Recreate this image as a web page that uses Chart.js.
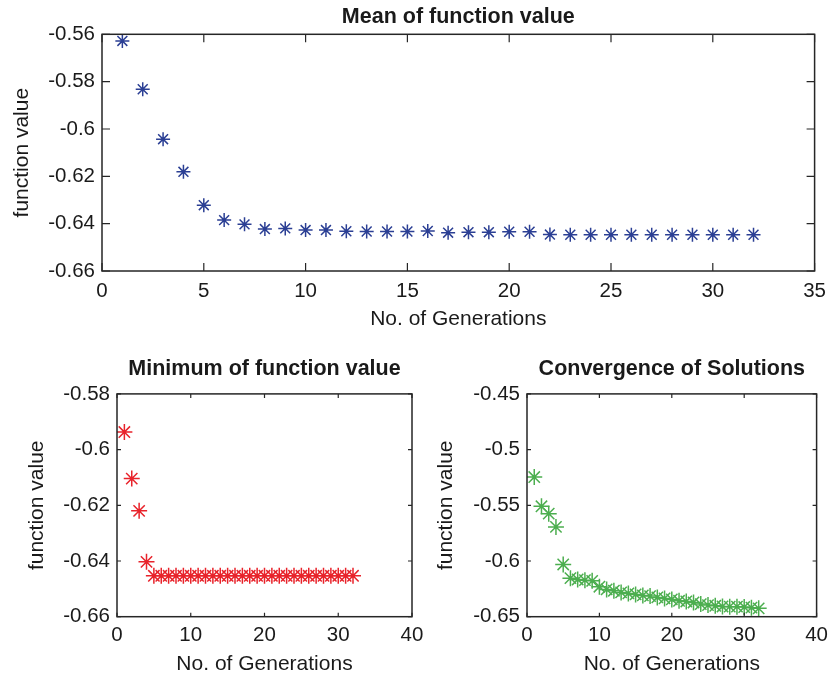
<!DOCTYPE html>
<html>
<head>
<meta charset="utf-8">
<script src="https://cdn.jsdelivr.net/npm/chart.js@4.4.1/dist/chart.umd.min.js"></script>
<style>
  html, body { margin: 0; padding: 0; background: #ffffff; width: 834px; height: 676px; overflow: hidden; }
  canvas { position: absolute; }
  #c1 { left: 0px; top: 0px; }
  #c2 { left: 0px; top: 350px; }
  #c3 { left: 410px; top: 350px; }
</style>
</head>
<body>
<canvas id="c1" width="834" height="340"></canvas>
<canvas id="c2" width="430" height="330"></canvas>
<canvas id="c3" width="424" height="330"></canvas>
<script>
// ---- data ----
const generations = [1,2,3,4,5,6,7,8,9,10,11,12,13,14,15,16,17,18,19,20,21,22,23,24,25,26,27,28,29,30,31,32];

const meanValues = [-0.5628,-0.5832,-0.6043,-0.6181,-0.6322,-0.6385,-0.6403,-0.6423,-0.6420,-0.6427,
  -0.6427,-0.6432,-0.6433,-0.6433,-0.6433,-0.6431,-0.6438,-0.6436,-0.6436,-0.6434,
  -0.6434,-0.6446,-0.6447,-0.6447,-0.6447,-0.6447,-0.6447,-0.6447,-0.6447,-0.6447,-0.6447,-0.6447];

const minValues = [-0.5937,-0.6104,-0.6220,-0.6403,-0.6453,-0.6453,-0.6453,-0.6453,-0.6453,-0.6453,
  -0.6453,-0.6453,-0.6453,-0.6453,-0.6453,-0.6453,-0.6453,-0.6453,-0.6453,-0.6453,
  -0.6453,-0.6453,-0.6453,-0.6453,-0.6453,-0.6453,-0.6453,-0.6453,-0.6453,-0.6453,-0.6453,-0.6453];

const convValues = [-0.5246,-0.5509,-0.5575,-0.5694,-0.6031,-0.6154,-0.6166,-0.6172,-0.6178,-0.6231,
  -0.6255,-0.6267,-0.6282,-0.6291,-0.6300,-0.6309,-0.6315,-0.6327,-0.6336,-0.6345,
  -0.6357,-0.6363,-0.6372,-0.6387,-0.6396,-0.6402,-0.6408,-0.6410,-0.6410,-0.6413,-0.6419,-0.6425];

const titles = ['Mean of function value', 'Minimum of function value', 'Convergence of Solutions'];
const xAxisTitle = 'No. of Generations';
const yAxisTitle = 'function value';

// axis ranges / tick steps
const topX = {min: 0, max: 35, step: 5};
const topY = {min: -0.66, max: -0.56, step: 0.02};
const minX = {min: 0, max: 40, step: 10};
const minY = {min: -0.66, max: -0.58, step: 0.02};
const convX = {min: 0, max: 40, step: 10};
const convY = {min: -0.65, max: -0.45, step: 0.05};

// ---- helpers ----
const FONT = "'Liberation Sans', Arial, Helvetica, sans-serif";
const TEXT = '#1a1a1a';

const boxPlugin = {
  id: 'matlabBox',
  afterDraw(chart, args, opts) {
    const ctx = chart.ctx, a = chart.chartArea, xs = chart.scales.x, ys = chart.scales.y;
    const L = opts.tickLen || 5;
    ctx.save();
    ctx.strokeStyle = '#262626';
    ctx.lineWidth = 1.5;
    ctx.strokeRect(a.left, a.top, a.right - a.left, a.bottom - a.top);
    ctx.lineWidth = 1.2;
    ctx.beginPath();
    xs.ticks.forEach(t => {
      const px = xs.getPixelForValue(t.value);
      ctx.moveTo(px, a.bottom); ctx.lineTo(px, a.bottom - L);
      ctx.moveTo(px, a.top); ctx.lineTo(px, a.top + L);
    });
    ys.ticks.forEach(t => {
      const py = ys.getPixelForValue(t.value);
      ctx.moveTo(a.left, py); ctx.lineTo(a.left + L, py);
      ctx.moveTo(a.right, py); ctx.lineTo(a.right - L, py);
    });
    ctx.stroke();
    ctx.restore();
  }
};

function fmt(v) { return String(Number(v.toFixed(3))); }

function makeChart(id, cfg) {
  const pts = generations.map((g, i) => ({x: g, y: cfg.values[i]}));
  return new Chart(document.getElementById(id), {
    type: 'scatter',
    data: { datasets: [{
      data: pts,
      pointStyle: 'star',
      pointRadius: cfg.radius,
      pointHoverRadius: cfg.radius,
      borderColor: cfg.color,
      backgroundColor: cfg.color,
      pointBorderWidth: cfg.bw,
      showLine: false
    }]},
    options: {
      responsive: false,
      animation: false,
      events: [],
      layout: { padding: cfg.pad },
      plugins: {
        legend: { display: false },
        tooltip: { enabled: false },
        title: {
          display: true, text: cfg.title, fullSize: false, color: TEXT,
          font: { family: FONT, size: 21.5, weight: 'bold', lineHeight: 1.2 },
          padding: cfg.titlePad
        },
        matlabBox: { tickLen: cfg.tickLen }
      },
      scales: {
        x: {
          type: 'linear', min: cfg.xr.min, max: cfg.xr.max,
          grid: { display: false, drawTicks: false },
          border: { display: false },
          ticks: { stepSize: cfg.xr.step, color: TEXT, padding: cfg.xTickPad,
                   font: { family: FONT, size: 20.5 }, maxRotation: 0, callback: v => fmt(v) },
          title: { display: true, text: xAxisTitle, color: TEXT,
                   font: { family: FONT, size: 21, lineHeight: 1.2 }, padding: { top: 0, bottom: cfg.xTitleBottom } },
          afterFit: s => { s.height = cfg.xH; }
        },
        y: {
          type: 'linear', min: cfg.yr.min, max: cfg.yr.max,
          grid: { display: false, drawTicks: false },
          border: { display: false },
          ticks: { stepSize: cfg.yr.step, color: TEXT, padding: 7,
                   font: { family: FONT, size: 20.5 }, callback: v => fmt(v) },
          title: { display: true, text: yAxisTitle, color: TEXT,
                   font: { family: FONT, size: 21, lineHeight: 1.2 }, padding: { top: cfg.yTitleTop, bottom: 0 } },
          afterFit: s => { s.width = cfg.yW; }
        }
      }
    },
    plugins: [boxPlugin]
  });
}

makeChart('c1', {
  values: meanValues, title: titles[0], color: '#2b3f94', radius: 7, bw: 1.5,
  xr: topX, yr: topY, pad: {left: 0, right: 13, top: 0, bottom: 0},
  titlePad: {top: 4, bottom: 4.5}, xH: 69, yW: 102, xTickPad: 8, xTitleBottom: 8, yTitleTop: 10, tickLen: 8
});
makeChart('c2', {
  values: minValues, title: titles[1], color: '#e8232b', radius: 8, bw: 1.5,
  xr: minX, yr: minY, pad: {left: 0, right: 18, top: 0, bottom: 0},
  titlePad: {top: 6.4, bottom: 11.7}, xH: 63.3, yW: 117, xTickPad: 6, xTitleBottom: 3, yTitleTop: 24.5, tickLen: 4
});
makeChart('c3', {
  values: convValues, title: titles[2], color: '#4cae4f', radius: 8, bw: 1.5,
  xr: convX, yr: convY, pad: {left: 0, right: 13, top: 0, bottom: 0},
  titlePad: {top: 6.4, bottom: 11.7}, xH: 63.3, yW: 117, xTickPad: 6, xTitleBottom: 3, yTitleTop: 23.5, tickLen: 4
});
</script>
</body>
</html>
